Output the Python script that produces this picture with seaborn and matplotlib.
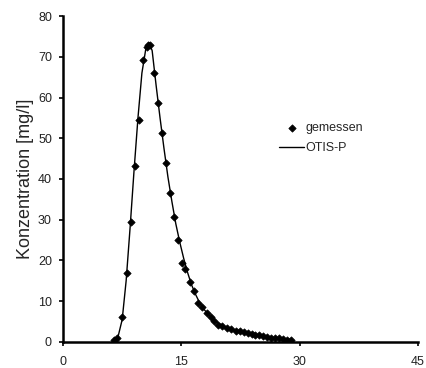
import numpy as np
import pandas as pd
import matplotlib
matplotlib.use("Agg")
import matplotlib.pyplot as plt
import seaborn as sns

# measured concentrations (gemessen)
t_meas = [6.5, 6.8, 7.5, 8.1, 8.6, 9.1, 9.6, 10.1, 10.6, 10.8, 11.05, 11.55,
          12.05, 12.6, 13.1, 13.6, 14.1, 14.6, 15.1, 15.5, 16.05, 16.55, 17.15,
          17.6, 18.2, 18.7, 19.2, 19.7, 20.2, 20.8, 21.3, 21.9, 22.4, 22.9,
          23.4, 23.9, 24.4, 24.9, 25.4, 25.9, 26.4, 26.9, 27.4, 27.9, 28.4, 28.9]
c_meas = [0.5, 1.1, 6.1, 17.0, 29.4, 43.2, 54.4, 69.2, 72.3, 73.0, 73.0, 66.0,
          58.7, 51.2, 43.9, 36.6, 30.7, 25.0, 19.3, 17.8, 14.6, 12.5, 9.6,
          8.7, 7.0, 6.1, 5.1, 4.2, 3.8, 3.4, 3.1, 2.8, 2.6, 2.4,
          2.2, 2.0, 1.8, 1.6, 1.4, 1.3, 1.1, 1.0, 0.9, 0.8, 0.6, 0.5]

# OTIS-P model curve
t_model = [6.2, 6.6, 7.0, 7.5, 8.0, 8.5, 9.0, 9.5, 10.0, 10.5, 10.9, 11.3,
           11.8, 12.3, 12.8, 13.3, 13.8, 14.3, 14.8, 15.3, 15.8, 16.3, 16.8,
           17.3, 17.8, 18.3, 18.8, 19.3, 19.8, 20.3, 20.8, 21.3, 22.0, 23.0,
           24.0, 25.0, 26.0, 27.0, 28.0, 29.0]
c_model = [0.0, 0.3, 1.5, 5.5, 15.0, 28.0, 42.0, 55.0, 66.0, 72.0, 73.5, 71.5,
           63.0, 55.0, 47.5, 40.5, 34.5, 29.0, 24.5, 20.5, 17.0, 14.0, 11.7,
           9.7, 8.2, 7.0, 6.0, 5.1, 4.5, 4.0, 3.5, 3.1, 2.7, 2.2,
           1.8, 1.5, 1.2, 1.0, 0.8, 0.6]

x_ticks = [0, 15, 30, 45]
y_ticks = [0, 10, 20, 30, 40, 50, 60, 70, 80]

sns.set_style("ticks")
plt.rcParams['font.family'] = ['Liberation Sans', 'DejaVu Sans']
plt.rcParams['font.size'] = 9

meas = pd.DataFrame({"t": t_meas, "c": c_meas})
model = pd.DataFrame({"t": t_model, "c": c_model})

fig = plt.figure(figsize=(4.26, 3.68), dpi=100)
ax = fig.add_axes([0.148, 0.0707, 0.833, 0.8858])

sns.scatterplot(data=meas, x="t", y="c", marker="D", s=14, color="black",
                edgecolor="black", linewidth=0.5, label="gemessen", ax=ax,
                zorder=3)
sns.lineplot(data=model, x="t", y="c", color="black", linewidth=1.0,
             label="OTIS-P", ax=ax, sort=False)

ax.set_xlim(0, 45)
ax.set_ylim(0, 80)
ax.set_xticks(x_ticks)
ax.set_yticks(y_ticks)
ax.set_xlabel("")
ax.set_ylabel("Konzentration [mg/l]", fontsize=13, labelpad=3)
ax.tick_params(axis="both", labelsize=9, width=1.2, length=3, color="black",
               labelcolor="#222222")
ax.tick_params(axis="x", pad=7)
ax.tick_params(axis="y", pad=5)
for s in ["left", "bottom"]:
    ax.spines[s].set_linewidth(1.8)
    ax.spines[s].set_color("black")
sns.despine(ax=ax)

ax.legend(loc="center left", bbox_to_anchor=(0.595, 0.625), frameon=False,
          fontsize=9, handlelength=2.0, handletextpad=0.1, borderaxespad=0,
          labelspacing=0.6)

fig.savefig("out.png", dpi=100)
